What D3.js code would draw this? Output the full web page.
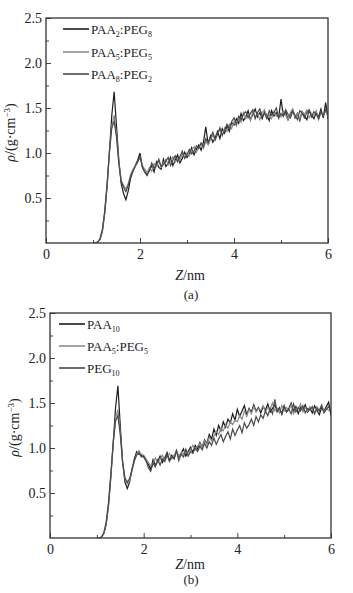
<!DOCTYPE html>
<html><head><meta charset="utf-8">
<script src="https://cdn.jsdelivr.net/npm/d3@7"></script>
<style>
body{margin:0;background:#fff}
svg{display:block;background:#fff}
text{font-family:"Liberation Serif","Times New Roman",serif;fill:#222}
</style>
</head><body>
<svg id="c" width="353" height="593"></svg>
<script>
const Z = [
1.00,1.05,1.10,1.15,1.20,1.25,1.30,1.35,1.40,1.45,
1.50,1.55,1.60,1.65,1.70,1.75,1.80,1.85,1.90,1.95,
2.00,2.05,2.10,2.15,2.20,2.25,2.30,2.35,2.40,2.45,
2.50,2.55,2.60,2.65,2.70,2.75,2.80,2.85,2.90,2.95,
3.00,3.05,3.10,3.15,3.20,3.25,3.30,3.35,3.40,3.45,
3.50,3.55,3.60,3.65,3.70,3.75,3.80,3.85,3.90,3.95,
4.00,4.05,4.10,4.15,4.20,4.25,4.30,4.35,4.40,4.45,
4.50,4.55,4.60,4.65,4.70,4.75,4.80,4.85,4.90,4.95,
5.00,5.05,5.10,5.15,5.20,5.25,5.30,5.35,5.40,5.45,
5.50,5.55,5.60,5.65,5.70,5.75,5.80,5.85,5.90,5.95,
6.00];

const xTicks = [0, 2, 4, 6];
const xMinor = [1, 3, 5];
const yTicks = [0.5, 1.0, 1.5, 2.0, 2.5];
const yMinor = [0.25, 0.75, 1.25, 1.75, 2.25];

// Panel (a)
const namesA = ["PAA_2:PEG_8", "PAA_5:PEG_5", "PAA_8:PEG_2"];
const a1 = [
0,0,0.01,0.04,0.13,0.33,0.63,1.02,1.42,1.68,
1.30,0.92,0.66,0.55,0.48,0.58,0.72,0.80,0.86,0.92,
1.00,0.84,0.79,0.75,0.81,0.86,0.79,0.90,0.84,0.82,
0.93,0.85,0.88,0.95,0.86,0.92,0.98,0.89,0.94,1.01,
0.95,0.99,1.06,0.98,1.04,1.09,1.03,1.12,1.29,1.10,
1.19,1.12,1.17,1.24,1.16,1.27,1.22,1.30,1.24,1.34,
1.31,1.38,1.33,1.44,1.36,1.40,1.47,1.37,1.43,1.49,
1.40,1.45,1.38,1.46,1.42,1.36,1.47,1.41,1.45,1.39,
1.60,1.41,1.46,1.37,1.43,1.48,1.39,1.44,1.36,1.46,
1.41,1.37,1.47,1.42,1.38,1.45,1.40,1.49,1.39,1.56,
1.38];
const a2 = [
0,0,0.01,0.04,0.14,0.34,0.64,1.00,1.30,1.42,
1.20,0.90,0.70,0.64,0.60,0.66,0.76,0.82,0.86,0.90,
0.95,0.86,0.82,0.78,0.84,0.80,0.88,0.85,0.91,0.84,
0.89,0.93,0.87,0.91,0.96,0.90,0.94,0.92,0.99,0.95,
1.00,0.97,1.03,1.07,1.01,1.06,1.11,1.05,1.13,1.09,
1.15,1.20,1.14,1.22,1.26,1.19,1.28,1.24,1.32,1.27,
1.35,1.30,1.39,1.34,1.45,1.38,1.42,1.36,1.46,1.40,
1.44,1.37,1.45,1.48,1.39,1.43,1.38,1.46,1.41,1.44,
1.40,1.47,1.42,1.37,1.45,1.49,1.40,1.44,1.38,1.46,
1.43,1.48,1.39,1.44,1.41,1.47,1.37,1.45,1.42,1.47,
1.40];
const a3 = [
0,0,0.01,0.05,0.15,0.36,0.66,1.02,1.28,1.35,
1.18,0.88,0.68,0.62,0.57,0.64,0.74,0.80,0.85,0.90,
0.96,0.85,0.79,0.76,0.80,0.89,0.83,0.87,0.93,0.85,
0.87,0.91,0.95,0.86,0.92,0.97,0.90,0.96,1.02,0.94,
0.98,1.04,0.99,1.02,1.08,1.05,1.11,1.07,1.16,1.12,
1.17,1.23,1.15,1.21,1.28,1.20,1.25,1.32,1.27,1.35,
1.39,1.32,1.41,1.37,1.43,1.46,1.39,1.44,1.48,1.38,
1.45,1.49,1.41,1.44,1.38,1.47,1.42,1.45,1.50,1.39,
1.44,1.41,1.48,1.43,1.39,1.46,1.42,1.37,1.47,1.44,
1.39,1.45,1.48,1.40,1.46,1.43,1.38,1.46,1.41,1.48,
1.44];

// Panel (b)
const namesB = ["PAA_10", "PAA_5:PEG_5", "PEG_10"];
const b1 = [
0,0,0.01,0.05,0.15,0.36,0.68,1.06,1.45,1.69,
1.25,0.85,0.62,0.55,0.62,0.76,0.88,0.96,0.93,0.92,
0.90,0.86,0.82,0.76,0.87,0.81,0.85,0.91,0.84,0.89,
0.95,0.86,0.92,0.88,0.97,0.90,0.94,0.99,0.91,0.96,
1.01,0.95,1.03,0.99,1.06,1.01,1.09,1.05,1.15,1.10,
1.21,1.14,1.25,1.19,1.29,1.23,1.32,1.28,1.38,1.31,
1.43,1.35,1.41,1.47,1.37,1.44,1.40,1.48,1.41,1.45,
1.39,1.46,1.42,1.49,1.40,1.44,1.48,1.41,1.45,1.38,
1.47,1.40,1.44,1.50,1.41,1.46,1.38,1.45,1.42,1.48,
1.40,1.44,1.39,1.47,1.42,1.37,1.45,1.41,1.46,1.51,
1.36];
const b2 = [
0,0,0.01,0.05,0.16,0.38,0.70,1.05,1.33,1.43,
1.18,0.85,0.66,0.60,0.64,0.74,0.85,0.93,0.97,0.93,
0.92,0.88,0.84,0.80,0.83,0.89,0.84,0.87,0.92,0.86,
0.90,0.94,0.88,0.92,0.97,0.91,0.95,0.93,0.99,0.94,
0.98,1.03,0.98,1.02,1.05,1.01,1.08,1.04,1.12,1.08,
1.13,1.19,1.15,1.22,1.19,1.26,1.22,1.29,1.26,1.31,
1.29,1.36,1.32,1.41,1.35,1.43,1.38,1.46,1.40,1.44,
1.42,1.47,1.40,1.45,1.43,1.50,1.41,1.44,1.39,1.47,
1.41,1.45,1.42,1.48,1.38,1.44,1.43,1.49,1.40,1.45,
1.41,1.46,1.43,1.39,1.46,1.42,1.48,1.40,1.44,1.42,
1.41];
const b3 = [
0,0,0.01,0.06,0.18,0.40,0.72,1.06,1.30,1.36,
1.15,0.84,0.67,0.62,0.66,0.76,0.86,0.92,0.95,0.90,
0.91,0.86,0.78,0.74,0.83,0.79,0.87,0.81,0.88,0.85,
0.93,0.85,0.90,0.88,0.97,0.86,0.93,0.90,0.98,0.91,
0.96,0.94,1.00,0.96,1.02,0.98,1.05,1.00,1.07,1.03,
1.11,1.04,1.10,1.15,1.07,1.13,1.18,1.10,1.21,1.14,
1.20,1.25,1.17,1.28,1.22,1.26,1.32,1.25,1.35,1.29,
1.37,1.33,1.41,1.36,1.44,1.38,1.54,1.40,1.44,1.37,
1.46,1.40,1.43,1.38,1.49,1.40,1.45,1.41,1.47,1.39,
1.44,1.42,1.46,1.38,1.44,1.41,1.47,1.39,1.43,1.46,
1.40];

const colors = ["#1c1c1c", "#8c8c8c", "#4a4a4a"];

const svg = d3.select("#c");

function drawPanel(cfg) {
  const x = d3.scaleLinear().domain([0, 6]).range([cfg.left, cfg.right]);
  const y = d3.scaleLinear().domain([0, 2.5]).range([cfg.bottom, cfg.top]);
  const g = svg.append("g");
  const clipId = "clip" + cfg.id;
  svg.append("clipPath").attr("id", clipId).append("rect")
    .attr("x", cfg.left).attr("y", cfg.top)
    .attr("width", cfg.right - cfg.left).attr("height", cfg.bottom - cfg.top);

  // axes
  const xa = g.append("g").attr("transform", `translate(0,${cfg.bottom})`)
    .call(d3.axisBottom(x).tickValues(xTicks).tickFormat(d3.format("d")).tickSize(-5).tickPadding(6));
  const xm = g.append("g").attr("transform", `translate(0,${cfg.bottom})`)
    .call(d3.axisBottom(x).tickValues(xMinor).tickFormat("").tickSize(-3));
  const ya = g.append("g").attr("transform", `translate(${cfg.left},0)`)
    .call(d3.axisLeft(y).tickValues(yTicks).tickFormat(d3.format(".1f")).tickSize(-5).tickPadding(4));
  const ym = g.append("g").attr("transform", `translate(${cfg.left},0)`)
    .call(d3.axisLeft(y).tickValues(yMinor).tickFormat("").tickSize(-3));
  [xa, xm, ya, ym].forEach(a => {
    a.select(".domain").remove();
    a.selectAll("line").attr("stroke", "#444").attr("stroke-width", 1);
    a.selectAll("text").filter(function () { return !this.textContent; }).remove();
    a.selectAll("text").attr("font-size", 14).attr("fill", "#222")
      .style("font-family", '"Liberation Serif", serif');
  });

  // lines
  const line = d3.line().x((d, i) => x(Z[i])).y(d => y(d));
  const lg = g.append("g").attr("clip-path", `url(#${clipId})`);
  cfg.series.forEach((s, k) => {
    lg.append("path").datum(s).attr("d", line)
      .attr("fill", "none").attr("stroke", colors[k])
      .attr("stroke-width", 1.2).attr("stroke-linejoin", "miter");
  });

  // frame
  g.append("rect").attr("x", cfg.left).attr("y", cfg.top)
    .attr("width", cfg.right - cfg.left).attr("height", cfg.bottom - cfg.top)
    .attr("fill", "none").attr("stroke", "#333").attr("stroke-width", 1.3);

  // legend
  cfg.names.forEach((n, k) => {
    const ly = cfg.legY[k];
    g.append("line").attr("x1", cfg.legX).attr("x2", cfg.legX + 26)
      .attr("y1", ly).attr("y2", ly).attr("stroke", colors[k]).attr("stroke-width", 1.6);
    const t = g.append("text").attr("x", cfg.legX + 28).attr("y", ly + 4.5)
      .attr("font-size", 13);
    let pending = 0;
    n.split(/(_\d+)/).filter(p => p.length).forEach(p => {
      if (p[0] === "_") {
        t.append("tspan").attr("font-size", 8).attr("dy", 3).text(p.slice(1));
        pending = -3;
      } else {
        const ts = t.append("tspan").text(p);
        if (pending) { ts.attr("dy", pending); pending = 0; }
      }
    });
  });

  // y label
  const yl = g.append("text")
    .attr("transform", `translate(${cfg.left - 31},${(cfg.top + cfg.bottom) / 2 + 2}) rotate(-90)`)
    .attr("text-anchor", "middle").attr("font-size", 14);
  yl.append("tspan").attr("font-style", "italic").text("ρ");
  yl.append("tspan").text("/(g·cm");
  yl.append("tspan").attr("font-size", 9).attr("dy", -5).text("−3");
  yl.append("tspan").attr("dy", 5).text(")");

  // x label
  const xl = g.append("text").attr("x", cfg.xlabX).attr("y", cfg.xlabY)
    .attr("text-anchor", "middle").attr("font-size", 14);
  xl.append("tspan").attr("font-style", "italic").text("Z");
  xl.append("tspan").text("/nm");
  g.append("text").attr("x", cfg.xlabX + 1).attr("y", cfg.subY)
    .attr("text-anchor", "middle").attr("font-size", 13).text(cfg.tag);
}

drawPanel({id: "a", left: 46, right: 328, top: 18, bottom: 243,
  series: [a1, a2, a3], names: namesA, legX: 63, legY: [29, 52, 74],
  xlabX: 190, xlabY: 280, subY: 299, tag: "(a)"});
drawPanel({id: "b", left: 50, right: 331, top: 313, bottom: 538,
  series: [b1, b2, b3], names: namesB, legX: 59, legY: [324, 346, 368],
  xlabX: 190, xlabY: 569, subY: 584, tag: "(b)"});
</script>
</body></html>
